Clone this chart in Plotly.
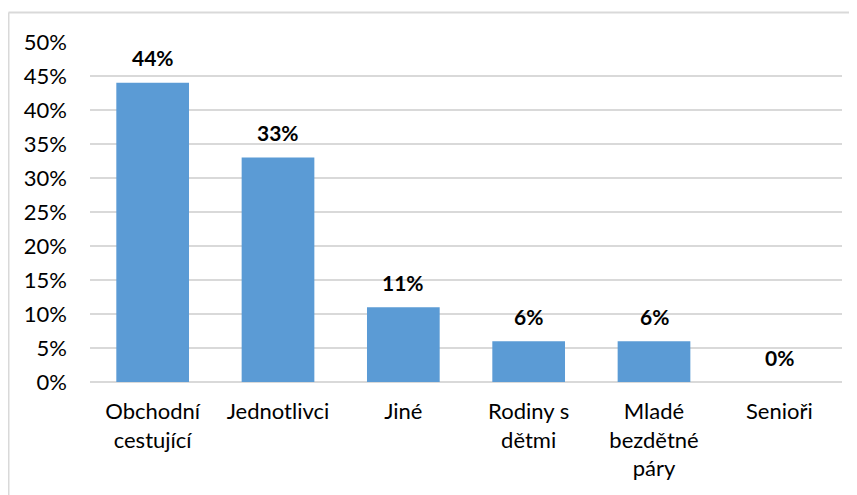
import plotly.graph_objects as go

categories = ["Obchodní<br>cestující", "Jednotlivci", "Jiné", "Rodiny s<br>dětmi", "Mladé<br>bezdětné<br>páry", "Senioři"]
values = [44, 33, 11, 6, 6, 0]
labels = ["44%", "33%", "11%", "6%", "6%", "0%"]
y_ticks = [0, 5, 10, 15, 20, 25, 30, 35, 40, 45, 50]
y_tick_text = [f"{v}%" for v in y_ticks]

OFF = 8  # page body margin
W, H = 857 - OFF, 495 - OFF
L, R, T, B = 90 - OFF, 15, 42 - OFF, 113
FONT = "Lato"
FS = 22

fig = go.Figure()
fig.add_trace(go.Bar(x=categories, y=values, marker=dict(color="#5B9BD5", line=dict(width=0)),
                     hoverinfo="skip"))

for c, v, t in zip(categories, values, labels):
    fig.add_annotation(x=c, y=v, text=f"<b>{t}</b>", showarrow=False, yanchor="middle", yshift=25,
                       font=dict(family=FONT, size=21, color="#000000"))

pw = W - L - R
ph = H - T - B
x0 = (8.5 - OFF - L) / pw
y1 = 1 + (T - (12.5 - OFF)) / ph
fig.add_shape(type="line", xref="paper", yref="paper", x0=x0, x1=(W - L) / pw + 0.02, y0=y1, y1=y1,
              line=dict(color="#D9D9D9", width=2))
fig.add_shape(type="line", xref="paper", yref="paper", x0=x0, x1=x0, y0=y1, y1=-1,
              line=dict(color="#D9D9D9", width=2))

fig.update_layout(
    width=W, height=H,
    margin=dict(l=L, r=R, t=T, b=B, pad=0),
    plot_bgcolor="white", paper_bgcolor="white",
    bargap=0.42,
    showlegend=False,
    font=dict(family=FONT, size=FS, color="#000000"),
)
fig.update_xaxes(showgrid=False, showline=False, ticks="", tickfont=dict(family=FONT, size=FS, color="#000000"),
                 ticklabelstandoff=14)
fig.update_yaxes(range=[0, 50], tickvals=y_ticks, ticktext=y_tick_text, showgrid=True, gridcolor="#D9D9D9",
                 gridwidth=1.5, zeroline=True, zerolinecolor="#D9D9D9", zerolinewidth=1.5, showline=False,
                 ticks="", ticklabelstandoff=22, tickfont=dict(family=FONT, size=FS, color="#000000"))

fig.write_html("out.html")
